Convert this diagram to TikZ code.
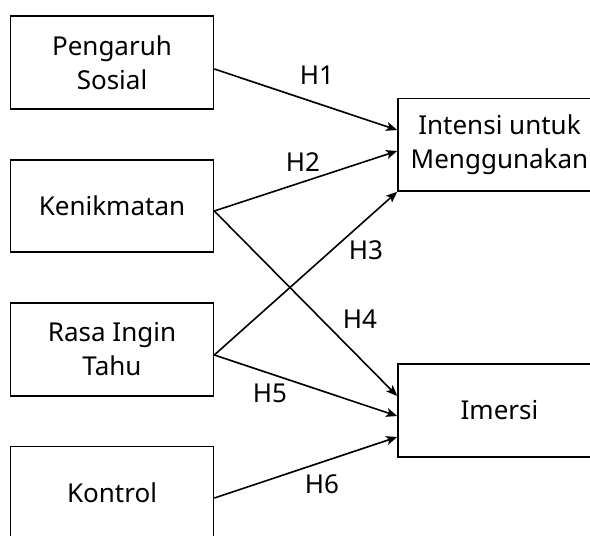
\documentclass[tikz,border=0pt]{standalone}
\usepackage{fontspec}
\setmainfont{Noto Sans}
\usetikzlibrary{arrows.meta}
\begin{document}
\begin{tikzpicture}[x=1pt,y=-1pt,
  box/.style={draw, line width=1.6pt, minimum width=203pt, inner sep=0pt, align=center,
    font=\fontsize{26}{34}\selectfont},
  conn/.style={line width=1.6pt, -{Stealth[length=11pt,width=9pt,inset=2.5pt]}},
  hlabel/.style={font=\fontsize{26}{34}\selectfont, inner sep=0pt}]
\useasboundingbox (0,0) rectangle (590,536);
\clip (0,0) rectangle (590,536);
\node[box, minimum height=93pt] (ps) at (112,62.5) {Pengaruh\\Sosial};
\node[box, minimum height=92pt] (ke) at (112,206) {Kenikmatan};
\node[box, minimum height=93pt] (rt) at (112,349.5) {Rasa Ingin\\Tahu};
\node[box, minimum height=93pt] (ko) at (112,493) {Kontrol};
\node[box, minimum height=92.5pt] (in) at (499.5,144.75) {Intensi untuk\\Menggunakan};
\node[box, minimum height=93pt] (im) at (499.5,410.5) {Imersi};
\draw[conn] ([yshift=-6.5pt]ps.east) -- ([yshift=14.75pt]in.west);
\draw[conn] ([yshift=-5pt]ke.east) -- ([yshift=-6.25pt]in.west);
\draw[conn] ([yshift=-5.5pt]rt.east) -- (in.south west);
\draw[conn] ([yshift=-5pt]ke.east) -- ([yshift=14.5pt]im.west);
\draw[conn] ([yshift=-5.5pt]rt.east) -- ([yshift=-5.5pt]im.west);
\draw[conn] ([yshift=-5pt]ko.east) -- ([yshift=-26.5pt]im.west);
\node[hlabel] (h1) at (317,75) {H1};
\node[hlabel] (h2) at (303,162) {H2};
\node[hlabel] (h3) at (366,250) {H3};
\node[hlabel] (h4) at (360,319) {H4};
\node[hlabel] (h5) at (270,393) {H5};
\node[hlabel] (h6) at (322,484) {H6};
\end{tikzpicture}
\end{document}
